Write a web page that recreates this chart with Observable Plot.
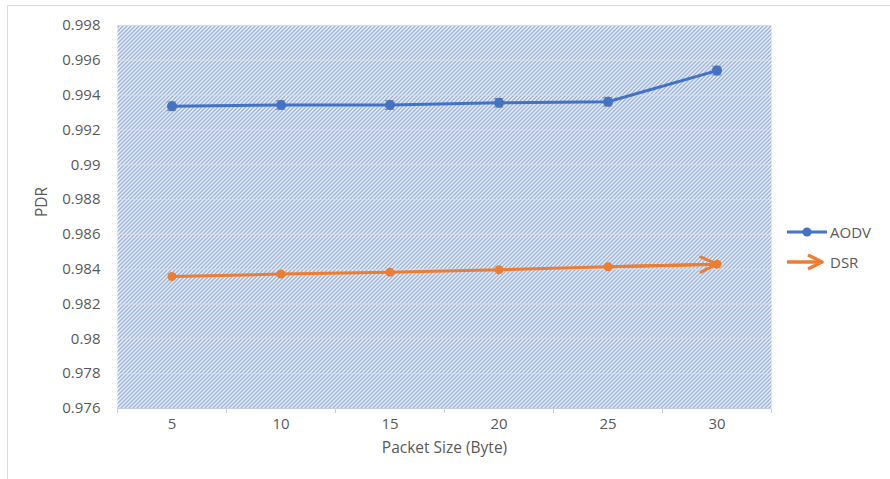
<!DOCTYPE html>
<html>
<head>
<meta charset="utf-8">
<script src="https://cdn.jsdelivr.net/npm/d3@7"></script>
<script src="https://cdn.jsdelivr.net/npm/@observablehq/plot@0.6"></script>
<style>
  html, body { margin: 0; padding: 0; background: #fff; }
  #wrap { position: relative; width: 890px; height: 479px; overflow: hidden; font-family: "Open Sans", sans-serif; }
  #border { position: absolute; left: 7px; top: 5px; width: 900px; height: 500px; border: 1px solid #d9d9d9; box-sizing: border-box; }
  #legend { position: absolute; left: 786px; top: 217px; color: #595959; font-size: 15px; }
  .item { display: flex; align-items: center; height: 30px; }
  .item svg { margin-right: 2px; }
</style>
</head>
<body>
<div id="wrap"><div id="border"></div><div id="chart"></div><div id="legend"></div></div>
<script>
// ---- data ----
const sizes = [5, 10, 15, 20, 25, 30];
const aodv = [0.99336, 0.99343, 0.99343, 0.99356, 0.99362, 0.99541];
const aodvErr = [0.00025, 0.00025, 0.00025, 0.00025, 0.00025, 0.00025];
const dsr = [0.98358, 0.98372, 0.98383, 0.98397, 0.98414, 0.98429];
const yTicks = [0.976, 0.978, 0.98, 0.982, 0.984, 0.986, 0.988, 0.99, 0.992, 0.994, 0.996, 0.998];
const seriesNames = ["AODV", "DSR"];
const xLabel = "Packet Size (Byte)";
const yLabel = "PDR";

const BLUE = "#4472C4", ORANGE = "#ED7D31", TEXT = "#595959";

const aodvData = sizes.map((s, i) => ({x: s, y: aodv[i], e: aodvErr[i]}));
const dsrData = sizes.map((s, i) => ({x: s, y: dsr[i]}));
const step = sizes[1] - sizes[0];
const bounds = [...sizes.map(s => s - step / 2), sizes[sizes.length - 1] + step / 2];
const lastSeg = [{x1: sizes[4], y1: dsr[4], x2: sizes[5], y2: dsr[5]}];

const chart = Plot.plot({
  width: 890,
  height: 479,
  marginLeft: 117,
  marginRight: 119,
  marginTop: 25,
  marginBottom: 71,
  style: {fontFamily: "'Open Sans', sans-serif", fontSize: "15px", color: TEXT, background: "transparent", overflow: "visible"},
  x: {domain: [bounds[0], bounds[bounds.length - 1]], axis: null},
  y: {domain: [yTicks[0], yTicks[yTicks.length - 1]], axis: null},
  marks: [
    Plot.frame({fill: "url(#hatch)", stroke: null}),
    Plot.ruleY(yTicks.slice(1), {stroke: "#dcdcdc", strokeWidth: 1}),
    Plot.ruleY([yTicks[0]], {stroke: "#c3cde3", strokeWidth: 1.2}),
    Plot.ruleX(bounds, {stroke: "#c3cde3", strokeWidth: 1, insetTop: 384, insetBottom: -5}),
    // tick labels
    Plot.text(sizes, {x: d => d, frameAnchor: "bottom", dy: 20, fill: TEXT, fontSize: 15}),
    Plot.text(yTicks, {y: d => d, text: d => `${d}`, frameAnchor: "left", textAnchor: "end", dx: -17, fill: TEXT, fontSize: 15}),
    Plot.text([xLabel], {frameAnchor: "bottom", dy: 44, fill: TEXT, fontSize: 15.5}),
    Plot.text([yLabel], {frameAnchor: "left", dx: -75, rotate: -90, fill: TEXT, fontSize: 15.5}),
    // AODV error bars
    Plot.ruleX(aodvData, {x: "x", y1: d => d.y - d.e, y2: d => d.y + d.e, stroke: "#8c8c8c"}),
    Plot.ruleY(aodvData, {y: d => d.y + d.e, x1: d => d.x - 0.22, x2: d => d.x + 0.22, stroke: "#8c8c8c"}),
    Plot.ruleY(aodvData, {y: d => d.y - d.e, x1: d => d.x - 0.22, x2: d => d.x + 0.22, stroke: "#8c8c8c"}),
    // series
    Plot.line(aodvData, {x: "x", y: "y", stroke: BLUE, strokeWidth: 3}),
    Plot.dot(aodvData, {x: "x", y: "y", r: 5, fill: BLUE}),
    Plot.line(dsrData, {x: "x", y: "y", stroke: ORANGE, strokeWidth: 3}),
    Plot.arrow(lastSeg, {x1: "x1", y1: "y1", x2: "x2", y2: "y2", stroke: ORANGE, strokeWidth: 3, headLength: 9, headAngle: 50}),
    Plot.dot(dsrData, {x: "x", y: "y", r: 4.5, fill: ORANGE})
  ]
});

// hatch pattern definition used by the frame fill
const defs = d3.select(chart).insert("defs", ":first-child");
const pat = defs.append("pattern").attr("id", "hatch").attr("patternUnits", "userSpaceOnUse")
  .attr("width", 4).attr("height", 4);
pat.append("rect").attr("width", 4).attr("height", 4).attr("fill", "#ffffff");
pat.append("path").attr("d", "M-1,1L1,-1M0,4L4,0M3,5L5,3")
  .attr("stroke", BLUE).attr("stroke-width", 1.05).attr("stroke-opacity", 0.88);

document.getElementById("chart").appendChild(chart);

// legend
const legend = document.getElementById("legend");
seriesNames.forEach((name, i) => {
  const item = document.createElement("div");
  item.className = "item";
  const sw = i === 0
    ? `<svg width="42" height="14"><line x1="1" y1="7" x2="41" y2="7" stroke="${BLUE}" stroke-width="3"/><circle cx="21" cy="7" r="4.5" fill="${BLUE}"/></svg>`
    : `<svg width="42" height="20"><line x1="1" y1="10" x2="34" y2="10" stroke="${ORANGE}" stroke-width="3.5"/><polyline points="22,3 36,10 22,17" fill="none" stroke="${ORANGE}" stroke-width="3.5" stroke-linejoin="round"/></svg>`;
  item.innerHTML = sw + `<span>${name}</span>`;
  legend.appendChild(item);
});
</script>
</body>
</html>
